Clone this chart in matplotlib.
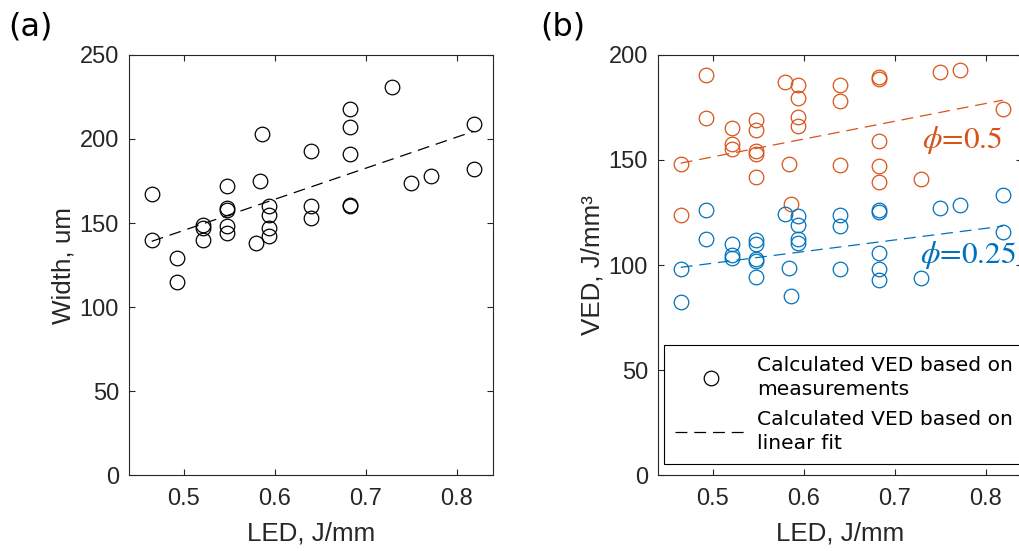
import numpy as np
import matplotlib
matplotlib.use('Agg')
import matplotlib.pyplot as plt
from matplotlib.lines import Line2D

# 字型設定
plt.rcParams['font.family'] = ['Liberation Sans', 'DejaVu Sans']
plt.rcParams['mathtext.fontset'] = 'stix'

# 資料
led = [0.465, 0.465, 0.493, 0.493, 0.521, 0.521, 0.521,
       0.548, 0.548, 0.548, 0.548, 0.548, 0.580, 0.584, 0.586,
       0.594, 0.594, 0.594, 0.594, 0.640, 0.640, 0.640,
       0.683, 0.683, 0.683, 0.683, 0.683, 0.729, 0.750, 0.772,
       0.819, 0.819]
width = [167, 140, 129, 115, 149, 147, 140,
         172, 159, 157.5, 148, 144, 138, 175, 203,
         160, 155, 147, 142, 193, 160, 153,
         218, 207, 191, 161, 160, 231, 174, 178,
         209, 182]
# phi=0.5 (最後一點超出上限, 圖上看不到)
ved_05 = [124, 148, 170, 190.5, 155.4, 157.4, 165.3,
          142, 152.7, 154.3, 164.5, 168.9, 187, 148.3, 129,
          166, 170.5, 179.5, 185.8, 147.6, 177.9, 185.8,
          139.6, 147.2, 159, 188.5, 189.7, 140.9, 191.8, 192.9,
          174.3]
ved_025 = [82.2, 98.1, 112.6, 126.3, 103.2, 104.7, 109.8,
           94.2, 101.9, 102.8, 109.8, 112.1, 124.1, 98.4, 85.3,
           110.7, 112.6, 119.2, 123.2, 98.1, 118.5, 124,
           92.9, 97.9, 105.8, 125.2, 126.3, 93.7, 127.3, 128.4,
           115.8, 133.1]

# 線性擬合的端點
fit_led = [0.465, 0.819]
fit_width = [139.1, 204.6]
fit_05 = [148.5, 178.5]
fit_025 = [98.9, 118.5]

orange = '#D95319'
blue = '#0072BD'
axcol = '#262626'
dash = (0, (9.5, 5.5))

fig = plt.figure(figsize=(10.19, 5.51), dpi=100)
ax1 = fig.add_axes([0.1266, 0.1379, 0.3572, 0.7623])
ax2 = fig.add_axes([0.6457, 0.1379, 0.3572, 0.7623])

ms = 10.5
mew = 0.9

# (a)
ax1.plot(led, width, 'o', mfc='none', mec='k', ms=ms, mew=mew)
ax1.plot(fit_led, fit_width, color='k', lw=0.9, ls=dash)
ax1.set_ylim(0, 250)
ax1.set_yticks([0, 50, 100, 150, 200, 250])
ax1.set_ylabel('Width, um', fontsize=18.7, color=axcol)

# (b)
ax2.plot(led[:-1], ved_05, 'o', mfc='none', mec=orange, ms=ms, mew=mew)
ax2.plot(led, ved_025, 'o', mfc='none', mec=blue, ms=ms, mew=mew)
ax2.plot(fit_led, fit_05, color=orange, lw=0.9, ls=dash)
ax2.plot(fit_led, fit_025, color=blue, lw=0.9, ls=dash)
ax2.set_ylim(0, 200)
ax2.set_yticks([0, 50, 100, 150, 200])
ax2.set_ylabel('VED, J/mm³', fontsize=18.7, color=axcol)

ax2.text(0.73, 155.8, r'$\phi$=0.5', color=orange, fontsize=22.5,
         family='STIXGeneral', ha='left', va='baseline')
ax2.text(0.728, 100.8, r'$\phi$=0.25', color=blue, fontsize=22.5,
         family='STIXGeneral', ha='left', va='baseline')

h1 = Line2D([], [], marker='o', ls='none', mfc='none', mec='k', ms=ms, mew=mew)
h2 = Line2D([], [], color='k', lw=0.9, ls=dash)
leg = ax2.legend([h1, h2],
                 ['Calculated VED based on\nmeasurements',
                  'Calculated VED based on\nlinear fit'],
                 loc='upper left', bbox_to_anchor=(664 / 1019, 1 - 345 / 551),
                 bbox_transform=fig.transFigure, borderaxespad=0,
                 prop={'family': 'DejaVu Sans', 'size': 14.6},
                 fancybox=False, edgecolor='k', framealpha=1,
                 borderpad=0.55, labelspacing=0.5, handlelength=3.5,
                 handletextpad=0.55)
leg.get_frame().set_linewidth(0.8)
for t in leg.get_texts():
    t.set_linespacing(1.35)

for ax in (ax1, ax2):
    ax.set_xlim(0.44, 0.84)
    ax.set_xticks([0.5, 0.6, 0.7, 0.8])
    ax.set_xlabel('LED, J/mm', fontsize=18.7, color=axcol)
    ax.xaxis.set_label_coords(0.5, -0.11)
    ax.yaxis.set_label_coords(-0.147, 0.5)
    ax.tick_params(direction='in', top=True, right=True, length=4,
                   width=0.8, labelsize=17, colors=axcol)
    ax.tick_params(axis='x', pad=9.7)
    ax.tick_params(axis='y', pad=7.2)
    for s in ax.spines.values():
        s.set_color(axcol)
        s.set_linewidth(0.8)

fig.text(8 / 1019, 1 - 36 / 551, '(a)', fontsize=23, family='DejaVu Sans',
         va='baseline', ha='left')
fig.text(540 / 1019, 1 - 36 / 551, '(b)', fontsize=23, family='DejaVu Sans',
         va='baseline', ha='left')

fig.savefig('out.png', dpi=100)
